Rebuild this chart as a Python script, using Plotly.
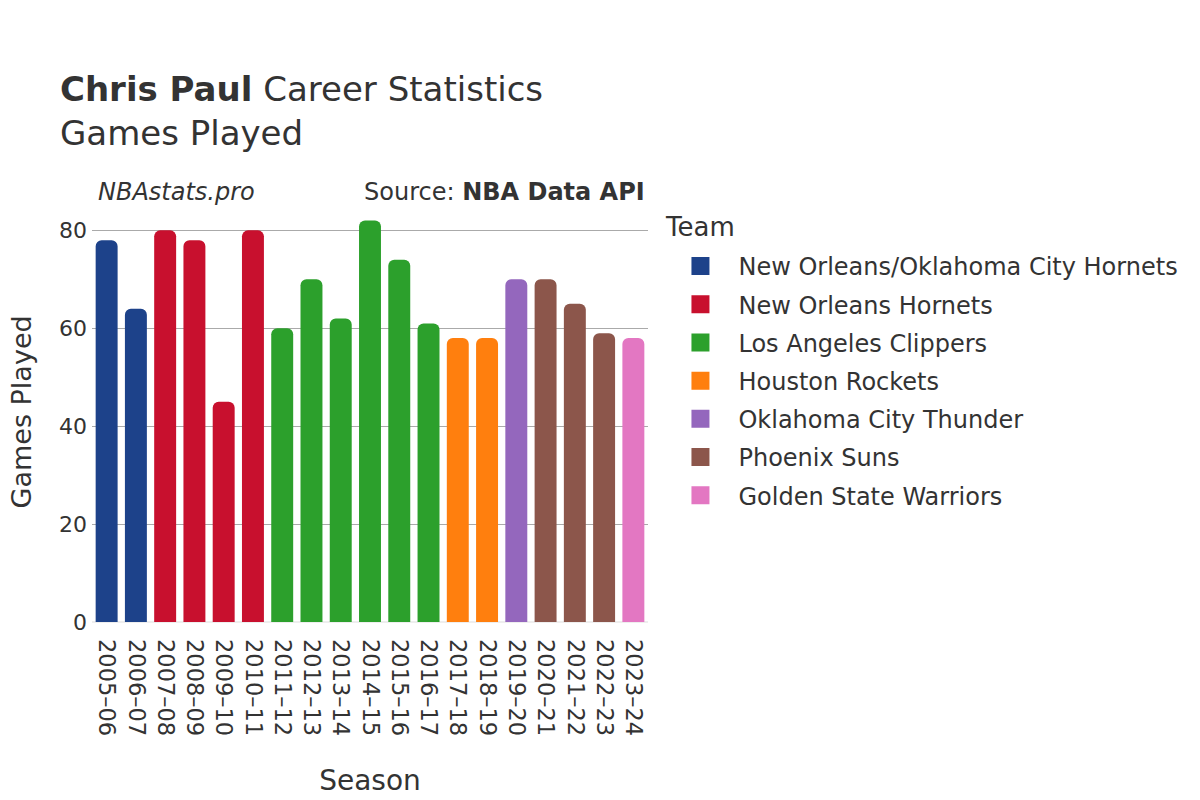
import plotly.graph_objects as go

seasons = [
    "2005–06", "2006–07", "2007–08", "2008–09", "2009–10", "2010–11",
    "2011–12", "2012–13", "2013–14", "2014–15", "2015–16", "2016–17",
    "2017–18", "2018–19", "2019–20", "2020–21", "2021–22", "2022–23", "2023–24",
]
games_played = [78, 64, 80, 78, 45, 80, 60, 70, 62, 82, 74, 61, 58, 58, 70, 70, 65, 59, 58]
teams = [
    "New Orleans/Oklahoma City Hornets", "New Orleans/Oklahoma City Hornets",
    "New Orleans Hornets", "New Orleans Hornets", "New Orleans Hornets", "New Orleans Hornets",
    "Los Angeles Clippers", "Los Angeles Clippers", "Los Angeles Clippers",
    "Los Angeles Clippers", "Los Angeles Clippers", "Los Angeles Clippers",
    "Houston Rockets", "Houston Rockets",
    "Oklahoma City Thunder",
    "Phoenix Suns", "Phoenix Suns", "Phoenix Suns",
    "Golden State Warriors",
]

TEAM_COLORS: dict[str, str] = {
    "New Orleans/Oklahoma City Hornets": "#1d428a",
    "New Orleans Hornets": "#c8102e",
    "Los Angeles Clippers": "#2ca02c",
    "Houston Rockets": "#ff7f0e",
    "Oklahoma City Thunder": "#9467bd",
    "Phoenix Suns": "#8c564b",
    "Golden State Warriors": "#e377c2",
}

FONT = "DejaVu Sans"
TEXT = "#333333"

fig = go.Figure()
for team, color in TEAM_COLORS.items():
    xs = [s for s, t in zip(seasons, teams) if t == team]
    ys = [g for g, t in zip(games_played, teams) if t == team]
    fig.add_bar(
        x=xs, y=ys, name=team, legendgroup=team, showlegend=False,
        marker=dict(color=color, line=dict(width=0)),
    )
    # bigger legend swatch than the default bar symbol
    fig.add_scatter(
        x=[None], y=[None], mode="markers", name=team, legendgroup=team,
        marker=dict(symbol="square", size=20, color=color,
                    line=dict(color=color, width=2)),
    )

fig.update_layout(
    width=1200, height=800,
    font=dict(family=FONT, color=TEXT, size=22),
    plot_bgcolor="white", paper_bgcolor="white",
    barmode="overlay", bargap=0.25, barcornerradius=6,
    margin=dict(l=84, r=560, t=193, b=186),
    title=dict(
        text="<b>Chris Paul</b> Career Statistics<br>Games Played",
        x=0.0433, xanchor="left", xref="container",
        y=0.884, yanchor="middle", yref="container",
        font=dict(size=34, color=TEXT),
    ),
    # legend title drawn as an annotation so the gap above the first item matches
    legend=dict(
        font=dict(size=24),
        x=1.026, xanchor="left", y=0.898, yanchor="top",
        itemwidth=66, tracegroupgap=4, traceorder="grouped",
    ),
    showlegend=True,
)
fig.update_xaxes(
    title=dict(text="Season", font=dict(size=28), standoff=35),
    categoryorder="array", categoryarray=seasons,
    tickangle=90, tickfont=dict(size=22.5), ticklabelstandoff=16,
    showgrid=False, showline=False, ticks="", automargin=False,
)
fig.update_yaxes(
    range=[0, 86], tickvals=[0, 20, 40, 60, 80], tickfont=dict(size=22),
    ticklabelstandoff=4,
    showgrid=True, gridcolor="#aaaaaa", gridwidth=1,
    zeroline=True, zerolinecolor="#eeeeee", zerolinewidth=2,
    showline=False, ticks="", automargin=False,
)
# y-axis title as an annotation: the real one is clamped inside the margin
fig.add_annotation(
    text="Games Played", xref="paper", yref="paper",
    x=-0.126, y=0.5, xanchor="center", yanchor="middle", textangle=-90,
    showarrow=False, font=dict(size=27, color=TEXT),
)
fig.add_annotation(
    text="Team", xref="paper", yref="paper",
    x=1.027, y=0.938, xanchor="left", yanchor="middle", showarrow=False,
    font=dict(size=26, color=TEXT),
)
fig.add_annotation(
    text="<i>NBAstats.pro</i>", xref="paper", yref="paper",
    x=0.007, y=1.0, xanchor="left", yanchor="bottom", yshift=-7, showarrow=False,
    font=dict(size=24, color=TEXT),
)
fig.add_annotation(
    text="Source: <b>NBA Data API</b>", xref="paper", yref="paper",
    x=0.999, y=1.0, xanchor="right", yanchor="bottom", yshift=-7, showarrow=False,
    font=dict(size=24, color=TEXT),
)

fig.write_html("out.html")
